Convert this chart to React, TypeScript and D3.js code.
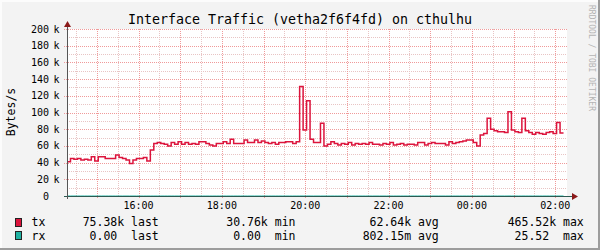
import React from 'react';
import * as d3 from 'd3';

// ---------- data ----------
const chartTitle = 'Interface Traffic (vetha2f6f4fd) on cthulhu';
const yAxisTitle = 'Bytes/s';
const watermark = 'RRDTOOL / TOBI OETIKER';

const startTime = new Date(2024, 0, 1, 14, 17);
const endTime = new Date(2024, 0, 2, 2, 17);
const stepMinutes = 5;

// tx in kB/s, one value per 5-minute step
const txKB = [
  41, 45, 44, 45, 43, 44, 43, 47, 42, 47, 47, 45, 45, 45, 49, 46, 45, 43, 39, 43,
  45, 45, 46, 42, 55, 63, 64, 63, 62, 60, 64, 62, 65, 62, 64, 62, 63, 62, 65, 65,
  63, 61, 60, 63, 63, 65, 63, 68, 63, 63, 63, 67, 64, 64, 67, 64, 66, 64, 63, 64,
  62, 64, 64, 65, 65, 63, 65, 131, 79, 114, 68, 64, 64, 87, 60, 62, 65, 63, 61, 63,
  62, 64, 61, 63, 62, 63, 62, 64, 62, 62, 61, 63, 62, 64, 61, 62, 63, 61, 62, 62,
  61, 64, 64, 61, 63, 64, 63, 63, 63, 61, 65, 63, 64, 65, 66, 67, 67, 64, 60, 73,
  75, 93, 80, 78, 77, 77, 76, 101, 79, 77, 76, 93, 78, 76, 74, 76, 75, 74, 76, 77,
  75, 88, 75.4,
];

// rx in B/s (near zero everywhere)
const rxB = [
  0, 0, 0, 0, 0, 0, 0, 0, 0, 0, 0, 0, 0, 0, 0, 0, 0, 0, 0, 0,
  0, 0, 0, 0, 0, 0, 0, 0, 0, 0, 0, 0, 0, 0, 0, 0, 0, 0, 0, 0,
  0, 0, 0, 0, 0, 0, 0, 0, 0, 0, 0, 0, 0, 0, 0, 0, 0, 0, 0, 0,
  0, 0, 0, 0, 0, 0, 0, 25.52, 21.3, 25.1, 0, 0, 0, 0, 0, 0, 0, 0, 0, 0,
  0, 0, 0, 0, 0, 0, 0, 0, 0, 0, 0, 0, 0, 0, 0, 0, 0, 0, 0, 0,
  0, 0, 0, 0, 0, 0, 0, 0, 0, 0, 0, 0, 0, 0, 0, 0, 0, 0, 0, 0,
  0, 0, 0, 0, 0, 0, 0, 24.8, 0, 0, 0, 18.0, 0, 0, 0, 0, 0, 0, 0, 0,
  0, 0, 0,
];

const yMax = 200000;
const yMajorStep = 20000;
const yMinorStep = 10000;

const seriesNames = ['tx', 'rx'];
const seriesColors = ['#dc143c', '#20b2a2'];
// legend values: [number, unit suffix]
const legendLast = [['75.38', 'k'], ['0.00', '']];
const legendMin = [['30.76', 'k'], ['0.00', '']];
const legendAvg = [['62.64', 'k'], ['802.15', 'm']];
const legendMax = [['465.52', 'k'], ['25.52', '']];
const legendStatNames = ['last', 'min', 'avg', 'max'];

// ---------- layout ----------
const W = 600;
const H = 250;
const L = 67;
const R = 567;
const T = 29;
const B = 196;
const FONT = '"DejaVu Sans Mono", monospace';

export default function App() {
  const x = d3.scaleTime().domain([startTime, endTime]).range([L, R]);
  const y = d3.scaleLinear().domain([0, yMax]).range([B, T]);
  const px = (v: number) => Math.round(v) + 0.5;

  const stepTime = (i: number) => d3.timeMinute.offset(startTime, i * stepMinutes);

  const txPts: [Date, number][] = txKB.map((v, i) => [stepTime(i), v * 1000]);
  txPts.push([stepTime(txKB.length), txKB[txKB.length - 1] * 1000]);
  const rxPts: [Date, number][] = rxB.map((v, i) => [stepTime(i), v]);
  rxPts.push([stepTime(rxB.length), rxB[rxB.length - 1]]);

  const line = d3
    .line<[Date, number]>()
    .x((d) => x(d[0]))
    .y((d) => y(d[1]))
    .curve(d3.curveStepAfter);

  const minorX = d3.timeMinute.every(30)!.range(startTime, endTime).filter((d) => d.getMinutes() !== 0);
  const majorX = d3.timeHour.every(1)!.range(startTime, endTime);
  const labelX = d3.timeHour.every(2)!.range(startTime, endTime);
  const fmt = d3.timeFormat('%H:%M');

  const minorY = d3.range(yMinorStep, yMax + 1, yMinorStep).filter((v) => v % yMajorStep !== 0);
  const majorY = d3.range(yMajorStep, yMax + 1, yMajorStep);
  const labelY = d3.range(0, yMax + 1, yMajorStep);

  const minorColor = '#e8c4c4';
  const majorColor = '#f09a9a';

  const legendRowY = [226, 239.5];
  const swatchY = [218, 231];
  const statEnds = [158.8, 295.5, 438.8, 583.8];
  const cols = [legendLast, legendMin, legendAvg, legendMax];

  return (
    <svg width={W} height={H} style={{ position: 'absolute', left: 0, top: 0 }} fontFamily={FONT}>
      <rect x={0} y={0} width={W} height={H} fill="#f3f3f3" />
      {/* frame */}
      <line x1={0} y1={1} x2={W} y2={1} stroke="#fcfcfc" strokeWidth={2} />
      <line x1={1} y1={0} x2={1} y2={H} stroke="#fcfcfc" strokeWidth={2} />
      <line x1={0} y1={H - 1} x2={W} y2={H - 1} stroke="#9c9c9c" strokeWidth={2} />
      <line x1={W - 1} y1={0} x2={W - 1} y2={H} stroke="#9c9c9c" strokeWidth={2} />

      {/* canvas */}
      <rect x={L} y={T} width={R - L} height={B - T} fill="#ffffff" />

      {/* minor grid */}
      {minorX.map((d, i) => (
        <line key={'mx' + i} x1={px(x(d))} x2={px(x(d))} y1={T} y2={B} stroke={minorColor} strokeDasharray="1,1" />
      ))}
      {minorY.map((v, i) => (
        <line key={'my' + i} x1={L} x2={R} y1={px(y(v))} y2={px(y(v))} stroke={minorColor} strokeDasharray="1,1" />
      ))}
      {/* major grid */}
      {majorX.map((d, i) => (
        <line key={'Mx' + i} x1={px(x(d))} x2={px(x(d))} y1={T} y2={B + 3} stroke={majorColor} strokeDasharray="1,1" />
      ))}
      {majorY.map((v, i) => (
        <line key={'My' + i} x1={L - 3} x2={R} y1={px(y(v))} y2={px(y(v))} stroke={majorColor} strokeDasharray="1,1" />
      ))}

      {/* series */}
      <path d={line(rxPts) || ''} fill="none" stroke={seriesColors[1]} strokeWidth={1} />
      <path d={line(txPts) || ''} fill="none" stroke={seriesColors[0]} strokeWidth={1.5} />

      {/* axes */}
      <line x1={L - 3} x2={R + 5} y1={B + 0.5} y2={B + 0.5} stroke="#2b5a52" strokeWidth={1} />
      <line x1={L + 0.5} x2={L + 0.5} y1={B + 3} y2={T - 3} stroke="#555555" strokeWidth={1} />
      <path d={`M${L + 0.5 - 3.5},${T - 2} L${L + 0.5 + 3.5},${T - 2} L${L + 0.5},${T - 8} Z`} fill="#8b1a1a" />
      <path d={`M${R + 5},${B + 0.5 - 3.5} L${R + 5},${B + 0.5 + 3.5} L${R + 11},${B + 0.5} Z`} fill="#8b1a1a" />

      {/* y labels */}
      {labelY.map((v, i) => (
        <g key={'yl' + i}>
          <text x={49} y={y(v) + 3.5} fontSize={10} textAnchor="end" fill="#000">
            {d3.format('d')(v / 1000)}
          </text>
          {v !== 0 && (
            <text x={53.6} y={y(v) + 3.5} fontSize={10} fill="#000">
              k
            </text>
          )}
        </g>
      ))}

      {/* x labels */}
      {labelX.map((d, i) => (
        <text key={'xl' + i} x={x(d)} y={208.5} fontSize={10} textAnchor="middle" fill="#000">
          {fmt(d)}
        </text>
      ))}

      {/* title */}
      <text x={300} y={24} fontSize={13.3} textAnchor="middle" fill="#000">
        {chartTitle}
      </text>

      {/* y axis title */}
      <text transform="translate(14.5,112) rotate(-90)" fontSize={11.5} textAnchor="middle" fill="#000">
        {yAxisTitle}
      </text>

      {/* watermark */}
      <text transform="translate(588.5,5) rotate(90)" fontSize={8} fill="#b4b4b4">
        {watermark}
      </text>

      {/* legend */}
      {seriesNames.map((name, r) => (
        <g key={'lg' + r} fontSize={11.5} fill="#000">
          <rect x={15.5} y={swatchY[r] + 0.5} width={6} height={8} fill={seriesColors[r]} stroke="#222" strokeWidth={1} />
          <text x={31.5} y={legendRowY[r]}>{name}</text>
          {cols.map((col, c) => (
            <text
              key={'c' + c}
              x={statEnds[c]}
              y={legendRowY[r]}
              textAnchor="end"
              style={{ whiteSpace: 'pre' }}
            >
              {`${col[r][0]}${col[r][1] || ' '} ${legendStatNames[c]}`}
            </text>
          ))}
        </g>
      ))}
    </svg>
  );
}
